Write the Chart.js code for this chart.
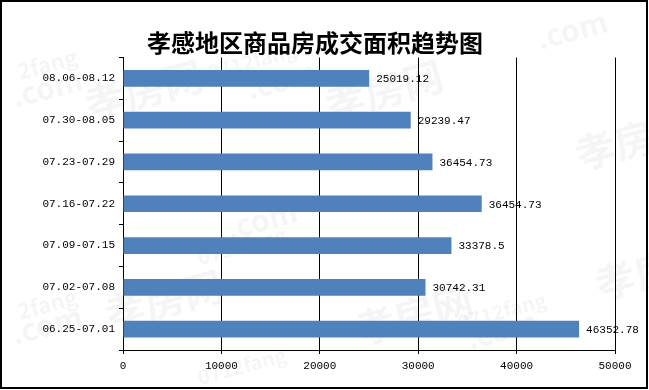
<!DOCTYPE html>
<html>
<head>
<meta charset="utf-8">
<script src="https://cdn.jsdelivr.net/npm/chart.js@4/dist/chart.umd.min.js"></script>
<style>
  html, body { margin: 0; padding: 0; background: #fff; }
  #wrap { width: 649px; height: 390px; position: relative; }
</style>
</head>
<body>
<div id="wrap"><canvas id="chart" width="649" height="390"></canvas></div>
<script>
// categories top to bottom, as in the picture
const weeks = ['08.06-08.12', '07.30-08.05', '07.23-07.29', '07.16-07.22', '07.09-07.15', '07.02-07.08', '06.25-07.01'];
// bar lengths
const areas = [25019.12, 29239.47, 31450, 36454.73, 33378.5, 30742.31, 46352.78];
// value labels as printed next to the bars
const areaLabels = ['25019.12', '29239.47', '36454.73', '36454.73', '33378.5', '30742.31', '46352.78'];
const xTicks = [0, 10000, 20000, 30000, 40000, 50000];

const tickFont = { family: '"Liberation Mono", "DejaVu Sans Mono", monospace', size: 11 };

// faint site watermark behind the chart
const watermark = {
  id: 'watermark',
  beforeDraw(chart) {
    const c = chart.ctx;
    const marks = [
      ['孝房网', 90, 120, 40], ['孝房网', 330, 120, 40], ['孝房网', 580, 170, 40],
      ['孝房网', 110, 330, 40], ['孝房网', 360, 345, 40], ['孝房网', 600, 300, 40],
      ['2fang', 20, 80, 22], ['.com', 15, 108, 30], ['0712fang', 210, 80, 20], ['.com', 250, 100, 30],
      ['0712fang', 200, 265, 20], ['.com', 230, 240, 30], ['0712fang', 460, 330, 20], ['.com', 470, 350, 30],
      ['2fang', 20, 320, 22], ['.com', 15, 345, 30], ['0712fang', 200, 385, 20], ['.com', 540, 50, 30]
    ];
    c.save();
    c.fillStyle = 'rgba(0,0,0,0.04)';
    marks.forEach(m => {
      c.save();
      c.translate(m[1], m[2]);
      c.rotate(-0.26);
      c.font = 'bold ' + m[3] + 'px "Noto Sans CJK SC", "Liberation Sans", sans-serif';
      c.fillText(m[0], 0, 0);
      c.restore();
    });
    c.restore();
  }
};

const valueLabels = {
  id: 'valueLabels',
  afterDatasetsDraw(chart) {
    const c = chart.ctx;
    const meta = chart.getDatasetMeta(0);
    c.save();
    c.fillStyle = '#000';
    c.font = '11px ' + tickFont.family;
    c.textAlign = 'left';
    c.textBaseline = 'middle';
    meta.data.forEach((bar, i) => {
      c.fillText(areaLabels[i], bar.x + 7, bar.y + 1);
    });
    c.restore();
  },
  afterDraw(chart) {
    const c = chart.ctx;
    c.save();
    c.strokeStyle = '#000';
    c.lineWidth = 2;
    c.strokeRect(1, 1, 646, 387);
    c.restore();
  }
};

new Chart(document.getElementById('chart').getContext('2d'), {
  type: 'bar',
  data: {
    labels: weeks,
    datasets: [{
      data: areas,
      backgroundColor: 'rgb(79, 129, 189)',
      borderWidth: 0,
      barPercentage: 0.4,
      categoryPercentage: 1
    }]
  },
  options: {
    indexAxis: 'y',
    responsive: false,
    animation: false,
    devicePixelRatio: 1,
    layout: { padding: { top: 7.7, right: 34, left: 15, bottom: 0 } },
    plugins: {
      legend: { display: false },
      tooltip: { enabled: false },
      title: {
        display: true,
        text: '孝感地区商品房成交面积趋势图',
        color: '#000',
        font: { family: '"Noto Sans CJK SC", sans-serif', size: 24, weight: 'bold', lineHeight: 1.2 },
        padding: { top: 21, bottom: 0 }
      }
    },
    scales: {
      x: {
        min: 0,
        max: 50000,
        afterBuildTicks(scale) { scale.ticks = xTicks.map(v => ({ value: v })); },
        afterFit(scale) { scale.height = 40; },
        grid: { color: '#000', lineWidth: 1, tickLength: 4, drawOnChartArea: true },
        border: { display: true, color: '#000', width: 1 },
        ticks: { color: '#000', font: tickFont, padding: 5, maxRotation: 0, callback: v => String(v) }
      },
      y: {
        afterFit(scale) { scale.width = 108; },
        grid: { color: '#000', lineWidth: 1, tickLength: 4, drawOnChartArea: false, offset: true },
        border: { display: true, color: '#000', width: 1 },
        ticks: { color: '#000', font: tickFont, padding: 4 }
      }
    }
  },
  plugins: [watermark, valueLabels]
});
</script>
</body>
</html>
